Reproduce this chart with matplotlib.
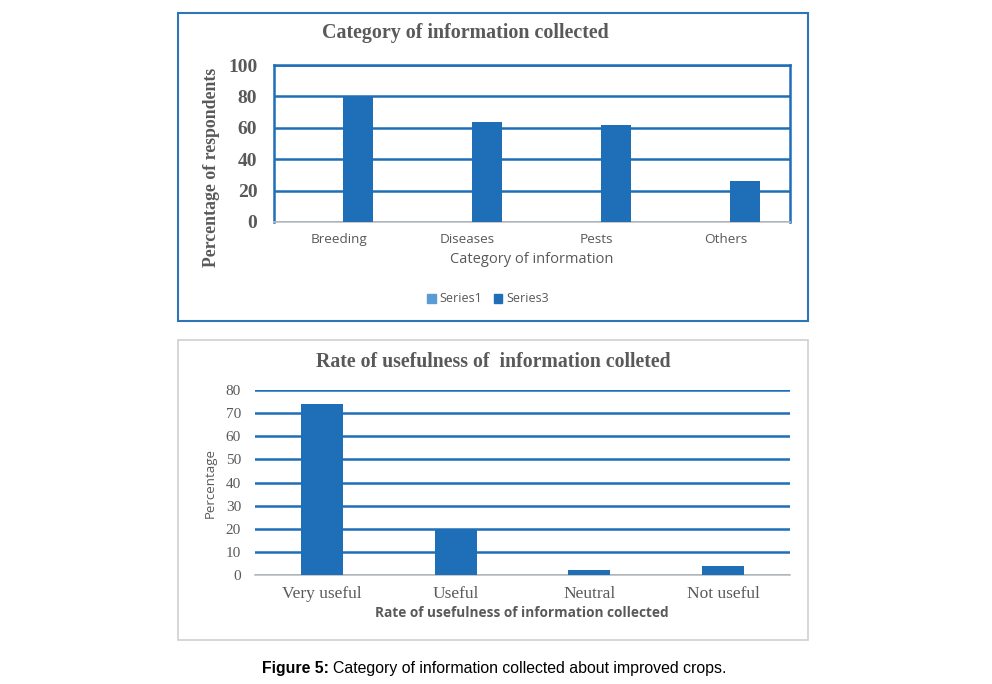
import numpy as np
import matplotlib
matplotlib.use('Agg')
import matplotlib.pyplot as plt
from matplotlib.patches import Rectangle, Patch

# top chart data
categories = ['Breeding', 'Diseases', 'Pests', 'Others']
series1 = [0, 0, 0, 0]
series3 = [80, 64, 62, 26]

# bottom chart data
rates = ['Very useful', 'Useful', 'Neutral', 'Not useful']
rate_pct = [74, 20, 2, 4]

W, H = 992, 684
blue = '#1f6fb8'
light_blue = '#5b9bd5'
gray = '#595959'
serif = 'Liberation Serif'
sans = 'Open Sans'


def fx(x):
    return x / W


def fy(y):
    return 1 - y / H


def box(x0, y0, x1, y1):
    return [fx(x0), fy(y1), (x1 - x0) / W, (y1 - y0) / H]


fig = plt.figure(figsize=(W / 100, H / 100), dpi=100)

# outer frames
fig.patches.append(Rectangle((fx(178), fy(321)), 630 / W, 308 / H, transform=fig.transFigure,
                             fill=False, edgecolor='#2e75b6', linewidth=1.5))
fig.patches.append(Rectangle((fx(178), fy(640)), 630 / W, 300 / H, transform=fig.transFigure,
                             fill=False, edgecolor='#d0d0d0', linewidth=1.2))

# ---- top chart ----
ax1 = fig.add_axes(box(274, 65, 790, 222))
x = np.arange(len(categories))
bw = 0.233
ax1.bar(x - 0.08, series1, width=bw, color=light_blue, label='Series1')
ax1.bar(x + 0.151, series3, width=bw, color=blue, label='Series3', zorder=3)
ax1.set_xlim(-0.5, 3.5)
ax1.set_ylim(0, 100)
ax1.set_yticks([0, 20, 40, 60, 80, 100])
ax1.yaxis.grid(True, color=blue, linewidth=1.8)
ax1.set_axisbelow(True)
for s in ['left', 'top', 'right']:
    ax1.spines[s].set_color(blue)
    ax1.spines[s].set_linewidth(1.8)
ax1.spines['bottom'].set_color('#bfbfbf')
ax1.spines['bottom'].set_linewidth(1.2)
ax1.tick_params(length=0)
ax1.set_xticks(x)
ax1.set_xticklabels(categories, fontfamily=sans, fontsize=9.7, color=gray)
ax1.tick_params(axis='x', pad=8)
ax1.tick_params(axis='y', pad=12)
for t in ax1.get_yticklabels():
    t.set_fontfamily(serif)
    t.set_fontweight('bold')
    t.set_fontsize(14)
    t.set_color(gray)

fig.text(fx(465), fy(33), 'Category of information collected', ha='center', va='center',
         fontfamily=serif, fontweight='bold', fontsize=14.4, color=gray)
fig.text(fx(211), fy(167), 'Percentage of respondents', ha='center', va='center', rotation=90,
         fontfamily=serif, fontweight='bold', fontsize=12.8, color=gray)
fig.text(fx(532), fy(260), 'Category of information', ha='center', va='center',
         fontfamily=sans, fontsize=10.5, color=gray)
leg = fig.legend(handles=[Patch(color=light_blue, label='Series1'), Patch(color=blue, label='Series3')],
                 loc='center', bbox_to_anchor=(fx(488), fy(299)), ncol=2, frameon=False,
                 prop={'family': sans, 'size': 9}, handlelength=0.7, handleheight=0.7,
                 handletextpad=0.3, columnspacing=0.9)
for t in leg.get_texts():
    t.set_color(gray)

# ---- bottom chart ----
ax2 = fig.add_axes(box(255, 390, 790, 575))
x2 = np.arange(len(rates))
ax2.bar(x2, rate_pct, width=0.314, color=blue, zorder=3)
ax2.set_xlim(-0.5, 3.5)
ax2.set_ylim(0, 80)
ax2.set_yticks(np.arange(0, 81, 10))
ax2.yaxis.grid(True, color=blue, linewidth=1.8)
ax2.set_axisbelow(True)
for s in ['left', 'top', 'right']:
    ax2.spines[s].set_visible(False)
ax2.spines['bottom'].set_color('#bfbfbf')
ax2.spines['bottom'].set_linewidth(1.2)
ax2.tick_params(length=0)
ax2.set_xticks(x2)
ax2.set_xticklabels(rates, fontfamily=serif, fontsize=12.5, color=gray)
ax2.tick_params(axis='x', pad=8)
ax2.tick_params(axis='y', pad=10)
for t in ax2.get_yticklabels():
    t.set_fontfamily(serif)
    t.set_fontsize(11)
    t.set_color(gray)

fig.text(fx(493), fy(362), 'Rate of usefulness of  information colleted', ha='center', va='center',
         fontfamily=serif, fontweight='bold', fontsize=14.2, color=gray)
fig.text(fx(210), fy(483), 'Percentage', ha='center', va='center', rotation=90,
         fontfamily=sans, fontsize=9.5, color=gray)
fig.text(fx(522), fy(613), 'Rate of usefulness of information collected', ha='center', va='center',
         fontfamily=sans, fontweight='bold', fontsize=9.8, color=gray)

# caption: bold lead-in, then plain text placed right after it
cap1 = fig.text(fx(262), fy(668), 'Figure 5:', ha='left', va='center',
                fontfamily='Liberation Sans', fontweight='bold', fontsize=11.4, color='black')
fig.canvas.draw()
ext = cap1.get_window_extent()
fig.text(ext.x1 / W + 4 / W, fy(668), 'Category of information collected about improved crops.',
         ha='left', va='center', fontfamily='Liberation Sans', fontsize=11.4, color='black')

fig.savefig('out.png', dpi=100)
